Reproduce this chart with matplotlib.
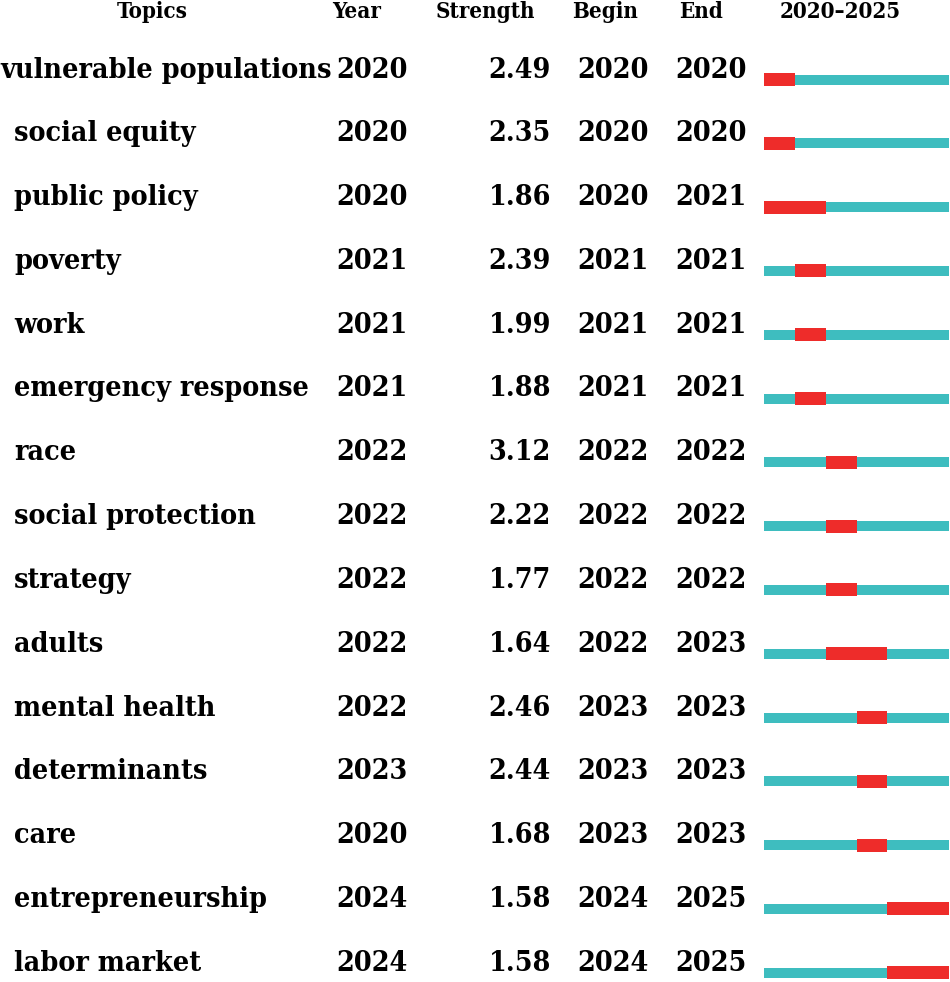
import matplotlib
matplotlib.use("Agg")
import matplotlib.pyplot as plt

topics = ["vulnerable populations", "social equity", "public policy", "poverty", "work",
          "emergency response", "race", "social protection", "strategy", "adults",
          "mental health", "determinants", "care", "entrepreneurship", "labor market"]
years = [2020, 2020, 2020, 2021, 2021, 2021, 2022, 2022, 2022, 2022, 2022, 2023, 2020, 2024, 2024]
strength = [2.49, 2.35, 1.86, 2.39, 1.99, 1.88, 3.12, 2.22, 1.77, 1.64, 2.46, 2.44, 1.68, 1.58, 1.58]
begin = [2020, 2020, 2020, 2021, 2021, 2021, 2022, 2022, 2022, 2022, 2023, 2023, 2023, 2024, 2024]
end = [2020, 2020, 2021, 2021, 2021, 2021, 2022, 2022, 2022, 2023, 2023, 2023, 2023, 2025, 2025]
headers = ["Topics", "Year", "Strength", "Begin", "End", "2020\u20132025"]
span_start, span_end = 2020, 2025

W, H = 950, 982
fig = plt.figure(figsize=(W / 100, H / 100), dpi=100)
ax = fig.add_axes([0, 0, 1, 1])
ax.set_xlim(0, W)
ax.set_ylim(H, 0)
ax.axis("off")

font = dict(family="DejaVu Serif", weight="bold", stretch="condensed", color="black")
fs = 20.5
hfs = 16

row0, step = 70, 63.8
ys = [row0 + i * step for i in range(len(topics))]

# headers
hx = [152, 357, 485, 605, 701, 840]
for x, h in zip(hx, headers):
    ax.text(x, 12, h, ha="center", va="center", fontsize=hfs, **font)

for i, y in enumerate(ys):
    tx = 0 if i == 0 else 14
    ax.text(tx, y, topics[i], ha="left", va="center", fontsize=fs, **font)
    ax.text(408, y, str(years[i]), ha="right", va="center", fontsize=fs, **font)
    ax.text(551, y, f"{strength[i]:.2f}", ha="right", va="center", fontsize=fs, **font)
    ax.text(649, y, str(begin[i]), ha="right", va="center", fontsize=fs, **font)
    ax.text(747, y, str(end[i]), ha="right", va="center", fontsize=fs, **font)

# bar axes
bx = fig.add_axes([764 / W, 0, (949 - 764) / W, 1])
bx.set_xlim(span_start, span_end + 1)
bx.set_ylim(H, 0)
bx.axis("off")
teal = "#3EBDBF"
red = "#EE2C2A"
for i, y in enumerate(ys):
    by = y + 9.5
    bx.barh(by, span_end + 1 - span_start, left=span_start, height=10, color=teal, linewidth=0)
    bx.barh(by, end[i] - begin[i] + 1, left=begin[i], height=13, color=red, linewidth=0)

fig.savefig("out.png", dpi=100)
